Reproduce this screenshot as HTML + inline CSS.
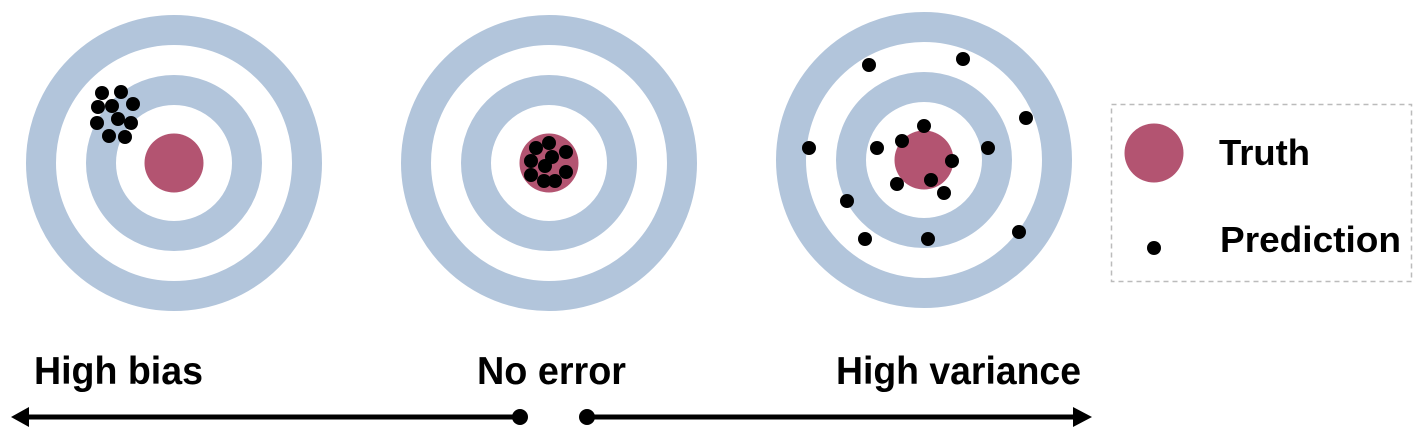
<!DOCTYPE html>
<html><head><meta charset="utf-8"><style>html,body{margin:0;padding:0;background:#fff}svg{display:block}</style></head>
<body>
<svg width="1421" height="440" viewBox="0 0 1421 440" xmlns="http://www.w3.org/2000/svg" font-family="Liberation Sans, Arial, sans-serif" font-weight="bold">
<defs>
<g id="tg">
<circle r="133" fill="none" stroke="#b2c5db" stroke-width="30"/>
<circle r="73" fill="none" stroke="#b2c5db" stroke-width="30"/>
</g>
</defs>
<use href="#tg" x="174" y="163"/>
<circle cx="174" cy="163" r="29.5" fill="#b35471"/>
<use href="#tg" x="549" y="163"/>
<circle cx="549" cy="163" r="29.5" fill="#b35471"/>
<use href="#tg" x="924" y="160"/>
<circle cx="924" cy="160" r="29.5" fill="#b35471"/>
<g fill="#000">
<circle cx="102" cy="93" r="7"/><circle cx="121" cy="92" r="7"/><circle cx="98" cy="107" r="7"/><circle cx="112" cy="106" r="7"/><circle cx="133" cy="104" r="7"/><circle cx="118" cy="119" r="7"/><circle cx="131" cy="123" r="7"/><circle cx="97" cy="123" r="7"/><circle cx="109" cy="136" r="7"/><circle cx="125" cy="137" r="7"/>
<circle cx="536" cy="148" r="7"/><circle cx="549" cy="143" r="7"/><circle cx="566" cy="152" r="7"/><circle cx="531" cy="161" r="7"/><circle cx="552" cy="157" r="7"/><circle cx="545" cy="166" r="7"/><circle cx="566" cy="172" r="7"/><circle cx="531" cy="175" r="7"/><circle cx="544" cy="181" r="7"/><circle cx="555" cy="181" r="7"/>
<circle cx="869" cy="65" r="7"/><circle cx="963" cy="59" r="7"/><circle cx="1026" cy="118" r="7"/><circle cx="809" cy="148" r="7"/><circle cx="877" cy="148" r="7"/><circle cx="902" cy="141" r="7"/><circle cx="924" cy="126" r="7"/><circle cx="988" cy="148" r="7"/><circle cx="952" cy="161" r="7"/><circle cx="931" cy="180" r="7"/><circle cx="897" cy="184" r="7"/><circle cx="944" cy="193" r="7"/><circle cx="847" cy="201" r="7"/><circle cx="865" cy="239" r="7"/><circle cx="928" cy="239" r="7"/><circle cx="1019" cy="232" r="7"/>
</g>
<rect x="1111.5" y="104.5" width="300" height="177" fill="none" stroke="#bbb" stroke-width="1.5" stroke-dasharray="5,4"/>
<circle cx="1154" cy="153" r="29.5" fill="#b35471"/>
<circle cx="1154" cy="248" r="7" fill="#000"/>
<text x="1219" y="165" font-size="36" textLength="91" lengthAdjust="spacingAndGlyphs">Truth</text>
<text x="1220" y="252" font-size="36" textLength="181" lengthAdjust="spacingAndGlyphs">Prediction</text>
<text x="34" y="384" font-size="39" textLength="169" lengthAdjust="spacingAndGlyphs">High bias</text>
<text x="477" y="384" font-size="39" textLength="149" lengthAdjust="spacingAndGlyphs">No error</text>
<text x="836" y="384" font-size="39" textLength="245" lengthAdjust="spacingAndGlyphs">High variance</text>
<line x1="28" y1="417" x2="520" y2="417" stroke="#000" stroke-width="5"/>
<polygon points="11,417 29,407 29,427" fill="#000"/>
<circle cx="520" cy="417" r="8" fill="#000"/>
<line x1="587" y1="417" x2="1076" y2="417" stroke="#000" stroke-width="5"/>
<circle cx="587" cy="417" r="8" fill="#000"/>
<polygon points="1092,417 1073,407 1073,427" fill="#000"/>
</svg>
</body></html>
